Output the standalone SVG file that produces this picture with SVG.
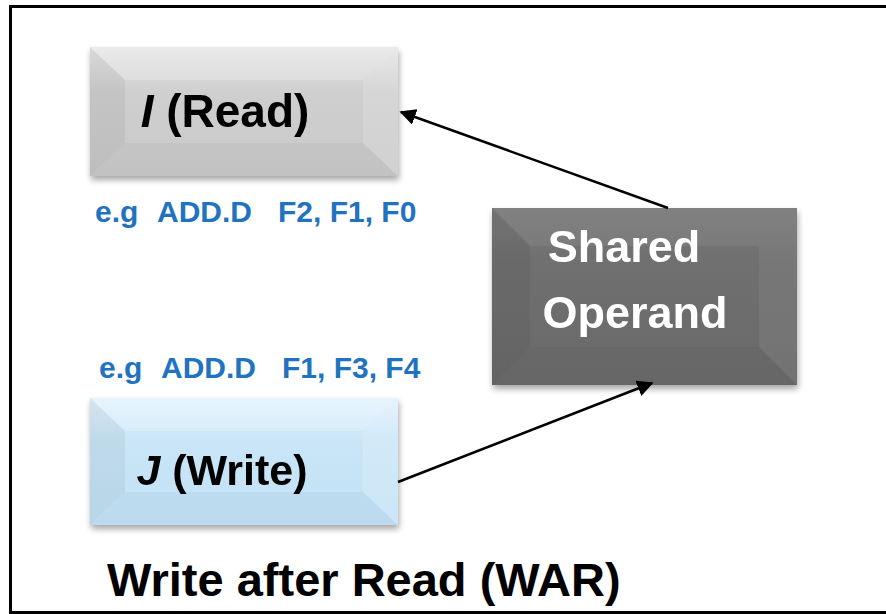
<svg xmlns="http://www.w3.org/2000/svg" width="886" height="614" viewBox="0 0 886 614">
  <style>
    .lbl { font-family: "Liberation Sans", Arial, sans-serif; font-weight: bold; }
    .ex { font-family: "Liberation Sans", Arial, sans-serif; font-weight: bold; font-size: 30px; fill: #1F73C1; }
    .conn { stroke: #000; stroke-width: 2.5; fill: none; marker-end: url(#arrow); }
  </style>
  <defs>
    <marker id="arrow" viewBox="0 0 10 10" refX="9" refY="5" markerWidth="6.5" markerHeight="6.5" orient="auto" markerUnits="strokeWidth">
      <path d="M0,0 L10,5 L0,10 z" fill="#000"/>
    </marker>
    <filter id="shadow" x="-10%" y="-10%" width="120%" height="130%">
      <feGaussianBlur in="SourceAlpha" stdDeviation="3"/>
      <feOffset dx="1" dy="4" result="b"/>
      <feComponentTransfer><feFuncA type="linear" slope="0.35"/></feComponentTransfer>
      <feMerge><feMergeNode/><feMergeNode in="SourceGraphic"/></feMerge>
    </filter>
    <linearGradient id="grayBody" x1="0" y1="0" x2="0" y2="1">
      <stop offset="0" stop-color="#e6e6e6"/>
      <stop offset="0.35" stop-color="#cfcfcf"/>
      <stop offset="1" stop-color="#c9c9c9"/>
    </linearGradient>
    <linearGradient id="blueBody" x1="0" y1="0" x2="0" y2="1">
      <stop offset="0" stop-color="#e2f2fc"/>
      <stop offset="0.35" stop-color="#c9e5f7"/>
      <stop offset="1" stop-color="#c3e2f6"/>
    </linearGradient>
    <linearGradient id="darkBody" x1="0" y1="0" x2="0" y2="1">
      <stop offset="0" stop-color="#7a7a7a"/>
      <stop offset="0.3" stop-color="#6f6f6f"/>
      <stop offset="1" stop-color="#6a6a6a"/>
    </linearGradient>
  </defs>

  <!-- outer frame -->
  <rect x="10.5" y="6.5" width="890" height="606" fill="#fff" stroke="#000" stroke-width="3"/>

  <!-- I (Read) -->
  <g id="node-i" filter="url(#shadow)">
    <rect x="90" y="47" width="308" height="129" fill="url(#grayBody)"/>
    <polygon points="90,47 125,80 125,143 90,176" fill="#000" opacity="0.05"/>
    <polygon points="398,47 363,80 363,143 398,176" fill="#fff" opacity="0.15"/>
    <polygon points="90,176 125,143 363,143 398,176" fill="#000" opacity="0.03"/>
    <polygon points="90,47 398,47 363,80 125,80" fill="#fff" opacity="0.2"/>
    <text class="lbl" x="225" y="127" font-size="46" text-anchor="middle"><tspan font-style="italic">I</tspan> (Read)</text>
  </g>

  <!-- J (Write) -->
  <g id="node-j" filter="url(#shadow)">
    <rect x="90" y="398" width="308" height="127" fill="url(#blueBody)"/>
    <polygon points="90,398 125,431 125,492 90,525" fill="#000" opacity="0.05"/>
    <polygon points="398,398 363,431 363,492 398,525" fill="#fff" opacity="0.15"/>
    <polygon points="90,525 125,492 363,492 398,525" fill="#000" opacity="0.03"/>
    <polygon points="90,398 398,398 363,431 125,431" fill="#fff" opacity="0.2"/>
    <text class="lbl" x="222" y="485" font-size="43" text-anchor="middle"><tspan font-style="italic">J</tspan> (Write)</text>
  </g>

  <!-- Shared Operand -->
  <g id="node-shared" filter="url(#shadow)">
    <rect x="492" y="208" width="305" height="177" fill="url(#darkBody)"/>
    <polygon points="492,208 530,246 530,347 492,385" fill="#000" opacity="0.05"/>
    <polygon points="797,208 759,246 759,347 797,385" fill="#fff" opacity="0.06"/>
    <polygon points="492,385 530,347 759,347 797,385" fill="#000" opacity="0.03"/>
    <polygon points="492,208 797,208 759,246 530,246" fill="#fff" opacity="0.06"/>
    <text class="lbl" x="624" y="262" font-size="45" fill="#fff" text-anchor="middle">Shared</text>
    <text class="lbl" x="635" y="328" font-size="45" fill="#fff" text-anchor="middle">Operand</text>
  </g>

  <!-- instruction examples -->
  <text class="ex" y="222"><tspan x="95">e.g</tspan><tspan x="157">ADD.D</tspan><tspan x="278">F2, F1, F0</tspan></text>
  <text class="ex" y="378"><tspan x="99">e.g</tspan><tspan x="161">ADD.D</tspan><tspan x="282">F1, F3, F4</tspan></text>

  <!-- connectors -->
  <g id="connectors">
    <line class="conn" x1="668" y1="208" x2="401" y2="112"/>
    <line class="conn" x1="398" y1="482" x2="652" y2="383"/>
  </g>

  <!-- caption -->
  <text class="lbl" x="107" y="596" font-size="47">Write after Read (WAR)</text>
</svg>
